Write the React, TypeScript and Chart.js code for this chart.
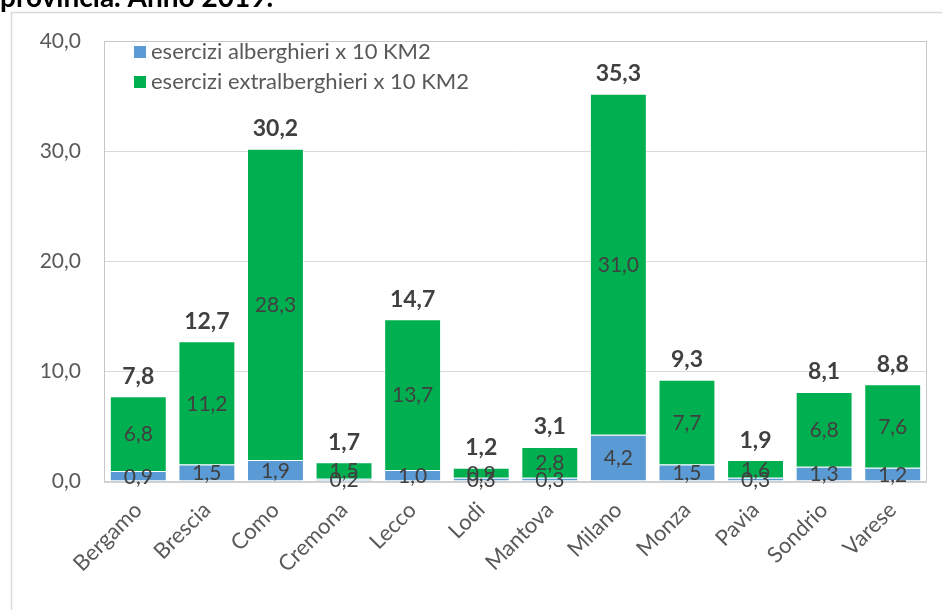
import React, { useEffect, useRef } from "react";
import { Chart, registerables } from "chart.js";

Chart.register(...registerables);

const categories = ["Bergamo", "Brescia", "Como", "Cremona", "Lecco", "Lodi", "Mantova", "Milano", "Monza", "Pavia", "Sondrio", "Varese"];
const alberghieri = [0.9, 1.5, 1.9, 0.2, 1.0, 0.3, 0.3, 4.2, 1.5, 0.3, 1.3, 1.2];
const extralberghieri = [6.8, 11.2, 28.3, 1.5, 13.7, 0.9, 2.8, 31.0, 7.7, 1.6, 6.8, 7.6];
const totals = [7.8, 12.7, 30.2, 1.7, 14.7, 1.2, 3.1, 35.3, 9.3, 1.9, 8.1, 8.8];
const seriesNames = ["esercizi alberghieri x 10 KM2", "esercizi extralberghieri x 10 KM2"];
const yTicks = [0, 10, 20, 30, 40];
const titleText = "provincia. Anno 2019.";

const BLUE = "#5B9BD5";
const GREEN = "#00B050";
const FONT = "Lato, 'Open Sans', sans-serif";

const fmt = (v: number) => v.toFixed(1).replace(".", ",");

const decorPlugin = {
  id: "decor",
  beforeDraw(chart: any) {
    const ctx = chart.ctx;
    ctx.save();
    ctx.fillStyle = "#ffffff";
    ctx.fillRect(0, 0, chart.width, chart.height);
    // outer frame
    ctx.strokeStyle = "#d9d9d9";
    ctx.lineWidth = 1.5;
    ctx.beginPath();
    ctx.moveTo(11.5, chart.height);
    ctx.lineTo(11.5, 12.5);
    ctx.lineTo(chart.width, 12.5);
    ctx.stroke();
    // title
    ctx.fillStyle = "#000000";
    ctx.font = `bold 28px ${FONT}`;
    ctx.textAlign = "left";
    ctx.textBaseline = "alphabetic";
    ctx.fillText(titleText, 0, 7);
    ctx.restore();
  },
  afterDatasetsDraw(chart: any) {
    const ctx = chart.ctx;
    const a = chart.chartArea;
    ctx.save();
    // plot border
    ctx.strokeStyle = "#c6c6c6";
    ctx.lineWidth = 1;
    ctx.beginPath();
    ctx.moveTo(a.left + 0.5, a.bottom);
    ctx.lineTo(a.left + 0.5, a.top + 0.5);
    ctx.lineTo(a.right - 0.5, a.top + 0.5);
    ctx.lineTo(a.right - 0.5, a.bottom);
    ctx.stroke();
    ctx.strokeStyle = "#d0d0d0";
    ctx.lineWidth = 2;
    ctx.beginPath();
    ctx.moveTo(a.left, a.bottom + 1);
    ctx.lineTo(a.right, a.bottom + 1);
    ctx.stroke();

    // inner labels
    ctx.fillStyle = "#404040";
    ctx.font = `21px ${FONT}`;
    ctx.textAlign = "center";
    ctx.textBaseline = "middle";
    chart.data.datasets.forEach((ds: any, di: number) => {
      const meta = chart.getDatasetMeta(di);
      meta.data.forEach((el: any, i: number) => {
        const y = (el.y + el.base) / 2;
        ctx.fillText(fmt(ds.data[i]), el.x, y + 1);
      });
    });
    // totals
    ctx.font = `bold 23px ${FONT}`;
    const top = chart.getDatasetMeta(1);
    top.data.forEach((el: any, i: number) => {
      ctx.fillText(fmt(totals[i]), el.x, el.y - 20);
    });

    // legend
    const colors = [BLUE, GREEN];
    ctx.font = `22px ${FONT}`;
    ctx.textAlign = "left";
    seriesNames.forEach((name, i) => {
      const cy = 52 + i * 30;
      ctx.fillStyle = colors[i];
      ctx.fillRect(134, cy - 6, 12, 12);
      ctx.fillStyle = "#595959";
      ctx.fillText(name, 151, cy);
    });
    ctx.restore();
  },
};

export default function App() {
  const ref = useRef<HTMLCanvasElement | null>(null);
  useEffect(() => {
    if (!ref.current) return;
    const chart = new Chart(ref.current, {
      type: "bar",
      data: {
        labels: categories,
        datasets: [
          {
            label: seriesNames[0],
            data: alberghieri,
            backgroundColor: BLUE,
            borderColor: "rgba(255,255,255,0.45)",
            borderWidth: 1,
          },
          {
            label: seriesNames[1],
            data: extralberghieri,
            backgroundColor: GREEN,
            borderColor: "rgba(255,255,255,0.45)",
            borderWidth: 1,
          },
        ],
      },
      options: {
        responsive: false,
        animation: false,
        layout: { padding: { top: 41, right: 15, left: 0, bottom: 0 } },
        datasets: { bar: { categoryPercentage: 0.83, barPercentage: 1 } },
        plugins: { legend: { display: false }, tooltip: { enabled: false }, title: { display: false } },
        scales: {
          x: {
            stacked: true,
            grid: { display: false },
            border: { display: false },
            ticks: {
              color: "#595959",
              font: { family: FONT, size: 22 },
              minRotation: 45,
              maxRotation: 45,
              padding: 8,
            },
            afterFit(scale: any) {
              scale.height = 129;
            },
          },
          y: {
            stacked: true,
            min: yTicks[0],
            max: yTicks[yTicks.length - 1],
            afterBuildTicks(scale: any) {
              scale.ticks = yTicks.map((v) => ({ value: v }));
            },
            grid: { color: "#d9d9d9", drawTicks: false },
            border: { display: false },
            ticks: {
              color: "#595959",
              font: { family: FONT, size: 21 },
              padding: 23,
              callback: (v: any) => fmt(Number(v)),
            },
            afterFit(scale: any) {
              scale.width = 104;
            },
          },
        },
      },
      plugins: [decorPlugin],
    } as any);
    return () => chart.destroy();
  }, []);
  return (
    <canvas
      ref={ref}
      width={942}
      height={610}
      style={{ position: "absolute", left: 0, top: 0, width: 942, height: 610 }}
    />
  );
}
